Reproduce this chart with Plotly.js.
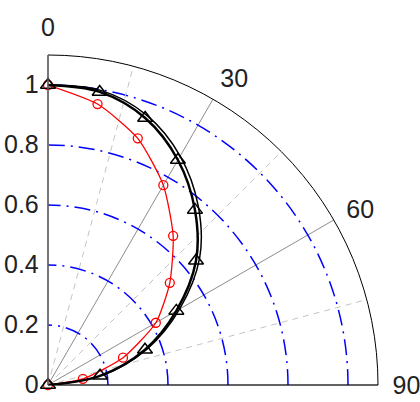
<!DOCTYPE html>
<html>
<head>
<meta charset="utf-8">
<script src="https://cdn.plot.ly/plotly-3.0.1.min.js"></script>
<style>html,body{margin:0;padding:0;background:#fff;}#chart{width:420px;height:402px;}</style>
</head>
<body>
<div id="chart"></div>
<script>
// Angles (degrees, measured clockwise from the top)
const angles = [0, 10, 20, 30, 40, 50, 60, 70, 80, 90];
// Black series with triangles
const blackR = [1.0, 0.992, 0.947, 0.866, 0.762, 0.644, 0.494, 0.344, 0.176, 0.0];
// Second black curve (just outside the first)
const blackOuterR = [1.0, 0.998, 0.958, 0.881, 0.779, 0.660, 0.507, 0.352, 0.180, 0.0];
// Red series with circles
const redR = [1.0, 0.951, 0.875, 0.769, 0.649, 0.530, 0.415, 0.266, 0.118, 0.0];

// Axis ticks
const radialTicks = [0, 0.2, 0.4, 0.6, 0.8, 1.0];
const radialTickText = ['0', '0.2', '0.4', '0.6', '0.8', '1'];
const angleTicks = [0, 30, 60, 90];
const angleTickText = ['0', '30', '60', '90'];
const dashedSpokes = [15, 45, 75];
const rMax = 1.1;

const FONT = '"Liberation Sans", Arial, sans-serif';

// dashed spokes as one trace with gaps
const spokeR = [], spokeT = [];
dashedSpokes.forEach(a => { spokeR.push(0, rMax, null); spokeT.push(a, a, null); });

const traces = [
  {
    type: 'scatterpolar', mode: 'lines', r: spokeR, theta: spokeT,
    line: {color: '#c4c4c4', width: 1, dash: '6px,5px'},
    hoverinfo: 'skip', showlegend: false, connectgaps: false
  },
  {
    type: 'scatterpolar', mode: 'lines', r: redR, theta: angles,
    line: {color: '#ff0000', width: 1.3, shape: 'spline', smoothing: 0.6},
    showlegend: false
  },
  {
    type: 'scatterpolar', mode: 'markers', r: redR, theta: angles,
    marker: {symbol: 'circle-open', size: 9, color: '#ff0000', line: {width: 1.3}},
    showlegend: false
  },
  {
    type: 'scatterpolar', mode: 'lines', r: blackOuterR, theta: angles,
    line: {color: '#000000', width: 1.5, shape: 'spline', smoothing: 1},
    showlegend: false
  },
  {
    type: 'scatterpolar', mode: 'lines+markers', r: blackR, theta: angles,
    line: {color: '#000000', width: 2.5, shape: 'spline', smoothing: 1},
    marker: {symbol: 'triangle-up-open', size: 13, color: '#000000', line: {width: 1.5}},
    showlegend: false
  }
];

const layout = {
  width: 420, height: 402,
  margin: {l: 48, r: 42, t: 55, b: 17, autoexpand: false},
  paper_bgcolor: '#ffffff',
  showlegend: false,
  polar: {
    sector: [0, 90],
    domain: {x: [0, 1], y: [0, 1]},
    bgcolor: '#ffffff',
    angularaxis: {
      rotation: 90, direction: 'clockwise',
      tickvals: angleTicks, ticktext: angleTickText,
      showticklabels: true, ticks: 'outside', ticklen: 9, tickcolor: 'rgba(0,0,0,0)',
      tickfont: {family: FONT, size: 25, color: '#222'},
      showgrid: true, gridcolor: '#8c8c8c', gridwidth: 1,
      showline: true, linecolor: '#000000', linewidth: 1
    },
    radialaxis: {
      range: [0, rMax], angle: 90, side: 'counterclockwise',
      tickvals: radialTicks, ticktext: radialTickText,
      ticks: '', tickangle: 90,
      tickfont: {family: FONT, size: 25, color: '#222'},
      showgrid: true, gridcolor: '#0000ff', gridwidth: 1.5, griddash: '16px,6px,2px,6px',
      showline: true, linecolor: '#8c8c8c', linewidth: 1
    }
  }
};

Plotly.newPlot('chart', traces, layout, {staticPlot: true, displayModeBar: false});
</script>
</body>
</html>
